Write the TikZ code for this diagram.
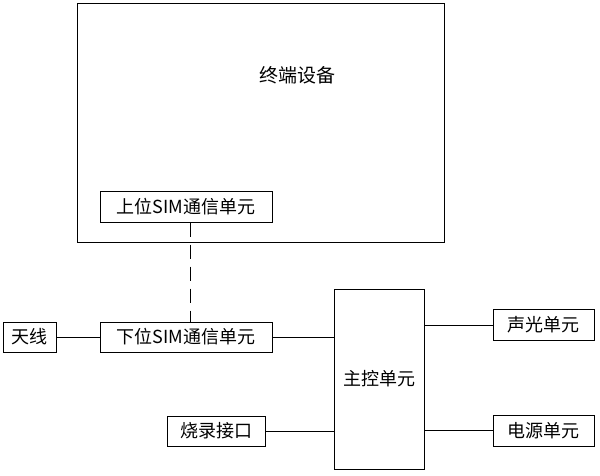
\documentclass[tikz,border=0pt]{standalone}
\usepackage{fontspec}
\setmainfont{Noto Sans CJK SC}
\begin{document}
\begin{tikzpicture}[x=1pt,y=-1pt,
  bx/.style={draw,line width=1pt,inner sep=0pt,font=\fontsize{18}{20}\selectfont},
  ln/.style={line width=0.8pt}]
\useasboundingbox (0,0) rectangle (600,475);
\node[bx,minimum width=367,minimum height=239,anchor=north west] (term) at (77,3) {};
\node[font=\fontsize{19}{21}\selectfont] (tt) at (297,75) {终端设备};
\node[bx,minimum width=172,minimum height=31] (usim) at (186,206.5) {上位SIM通信单元};
\node[bx,minimum width=172,minimum height=30] (lsim) at (186,337) {下位SIM通信单元};
\node[bx,minimum width=53,minimum height=30] (ant) at (29.5,337) {天线};
\node[bx,minimum width=90,minimum height=180] (main) at (379,379) {主控单元};
\node[bx,minimum width=101,minimum height=31] (sl) at (543.5,325) {声光单元};
\node[bx,minimum width=101,minimum height=31] (pw) at (543.5,430.5) {电源单元};
\node[bx,minimum width=98,minimum height=30] (burn) at (216,431) {烧录接口};
\draw[ln,dash pattern=on 14pt off 8pt] (usim.south -| 190,0) -- (lsim.north -| 190,0);
\draw[ln] (ant) -- (lsim);
\draw[ln] (lsim.east) -- (lsim.east -| main.west);
\draw[ln] (burn.east) -- (burn.east -| main.west);
\draw[ln] (sl.west -| main.east) -- (sl.west);
\draw[ln] (pw.west -| main.east) -- (pw.west);
\end{tikzpicture}
\end{document}
